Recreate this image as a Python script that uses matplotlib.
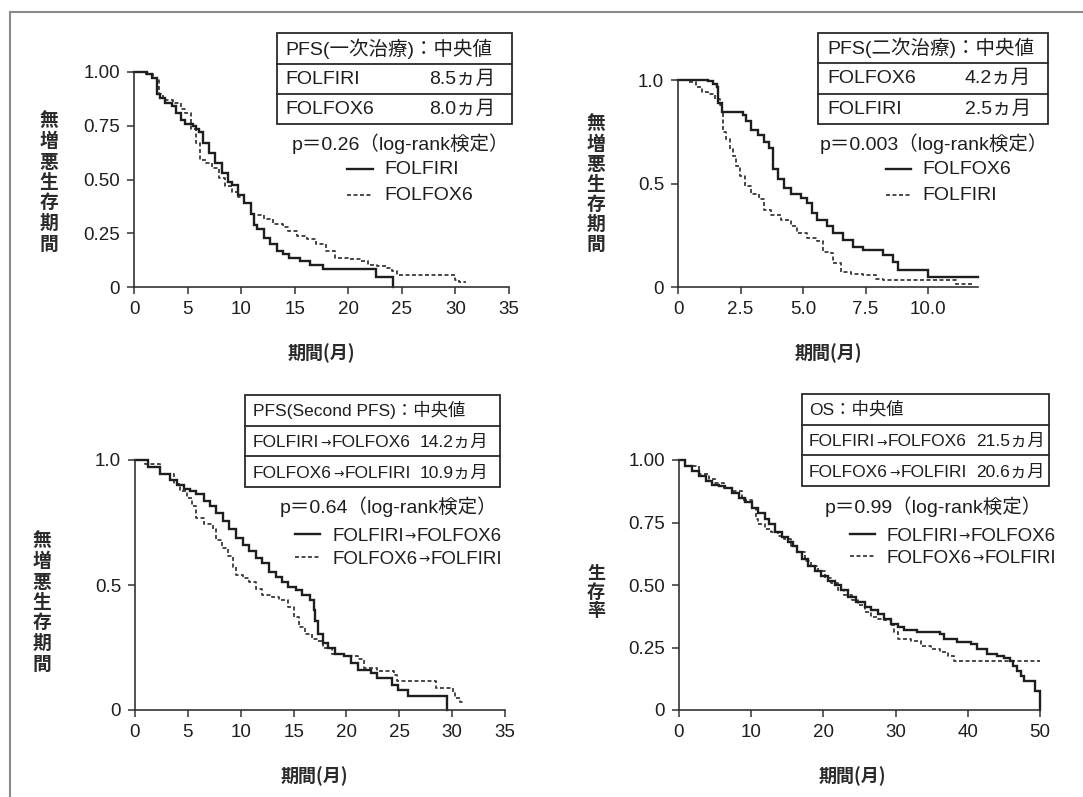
import matplotlib
matplotlib.use('Agg')
import matplotlib.pyplot as plt
from matplotlib.patches import Rectangle
from matplotlib.lines import Line2D

# ---------------- data ----------------
# Panel 1: PFS (first-line)
p1_folfiri_t = [0, 1.2, 1.7, 2.1, 2.4, 2.9, 3.5, 3.9, 4.4, 4.8, 5.5, 5.8, 6.1, 6.4, 7.0, 7.6, 8.2, 8.8, 9.1, 9.7,
                10.3, 10.9, 11.2, 11.5, 12.1, 12.7, 13.3, 13.9, 14.5, 15.5, 16.4, 17.6, 22.6, 24.2]
p1_folfiri_s = [1.0, 0.99, 0.97, 0.90, 0.88, 0.855, 0.84, 0.81, 0.775, 0.76, 0.75, 0.736, 0.72, 0.67, 0.625, 0.578,
                0.53, 0.49, 0.475, 0.43, 0.39, 0.34, 0.29, 0.27, 0.23, 0.20, 0.167, 0.152, 0.136, 0.12, 0.104, 0.085,
                0.046, 0.0]
p1_folfox_t = [0, 1.0, 1.8, 2.3, 2.7, 3.6, 4.4, 4.8, 5.3, 5.8, 6.2, 6.7, 7.3, 7.9, 8.5, 9.1, 9.7, 10.3, 10.9, 11.2,
               12.1, 13.0, 13.9, 14.4, 15.2, 16.1, 17.0, 17.9, 18.8, 20.0, 21.2, 21.8, 22.7, 23.6, 24.1, 24.5, 30.0,
               30.3, 31.0]
p1_folfox_s = [1.0, 0.99, 0.97, 0.90, 0.87, 0.855, 0.83, 0.81, 0.736, 0.67, 0.59, 0.578, 0.555, 0.507, 0.468, 0.444,
               0.42, 0.39, 0.34, 0.333, 0.318, 0.294, 0.28, 0.262, 0.239, 0.223, 0.20, 0.167, 0.136, 0.128, 0.12,
               0.104, 0.096, 0.088, 0.073, 0.054, 0.033, 0.025, 0.025]

# Panel 2: PFS (second-line)
p2_folfox_t = [0, 1.2, 1.4, 1.55, 1.6, 1.74, 2.6, 2.7, 2.9, 3.2, 3.45, 3.65, 3.8, 4.0, 4.25, 4.5, 4.9, 5.15, 5.35,
               5.55, 5.95, 6.2, 6.6, 7.0, 7.4, 8.2, 8.6, 8.8, 10.0, 12.0]
p2_folfox_s = [1.0, 0.995, 0.98, 0.967, 0.887, 0.846, 0.83, 0.80, 0.76, 0.735, 0.70, 0.67, 0.57, 0.52, 0.48, 0.447,
               0.43, 0.407, 0.358, 0.325, 0.293, 0.26, 0.228, 0.195, 0.18, 0.155, 0.122, 0.081, 0.049, 0.049]
p2_folfiri_t = [0, 0.4, 0.7, 0.95, 1.2, 1.47, 1.67, 1.74, 1.8, 1.93, 2.07, 2.2, 2.33, 2.47, 2.66, 2.9, 3.25, 3.45,
                3.7, 4.1, 4.5, 4.76, 5.15, 5.55, 5.8, 6.1, 6.2, 6.5, 6.9, 7.4, 7.9, 8.2, 11.1, 11.8]
p2_folfiri_s = [1.0, 0.99, 0.967, 0.94, 0.93, 0.91, 0.878, 0.846, 0.748, 0.715, 0.667, 0.634, 0.585, 0.537, 0.488,
                0.447, 0.423, 0.374, 0.35, 0.325, 0.293, 0.26, 0.236, 0.22, 0.171, 0.163, 0.114, 0.073, 0.065, 0.057,
                0.041, 0.033, 0.016, 0.016]

# Panel 3: Second PFS
p3_a_t = [0, 1.2, 2.4, 3.35, 4.0, 4.6, 5.2, 5.8, 6.5, 7.1, 7.7, 8.3, 8.9, 9.6, 10.2, 10.8, 11.4, 12.0, 12.7, 13.3,
          13.9, 14.5, 15.2, 15.8, 16.6, 16.9, 17.0, 17.3, 17.8, 18.3, 18.9, 19.8, 20.4, 21.1, 22.3, 22.9, 24.3, 24.9,
          25.8, 29.5]
p3_a_s = [1.0, 0.973, 0.946, 0.919, 0.90, 0.885, 0.878, 0.865, 0.838, 0.818, 0.79, 0.757, 0.723, 0.69, 0.662, 0.635,
          0.608, 0.588, 0.554, 0.534, 0.514, 0.493, 0.48, 0.46, 0.44, 0.40, 0.358, 0.304, 0.27, 0.25, 0.223, 0.216,
          0.19, 0.162, 0.149, 0.128, 0.10, 0.08, 0.056, 0.0]
p3_b_t = [0, 0.9, 2.4, 3.7, 4.3, 4.9, 5.4, 5.8, 6.5, 7.4, 7.7, 8.2, 8.8, 9.3, 9.6, 10.2, 10.8, 11.4, 12.0, 13.0, 13.6,
          14.5, 15.0, 15.5, 16.1, 16.7, 17.3, 17.8, 18.6, 19.8, 21.1, 21.7, 22.9, 24.5, 24.8, 28.5, 30.1, 30.3, 30.7,
          31.0]
p3_b_s = [1.0, 0.985, 0.946, 0.905, 0.878, 0.85, 0.818, 0.77, 0.743, 0.723, 0.682, 0.649, 0.615, 0.574, 0.54, 0.527,
          0.514, 0.486, 0.46, 0.453, 0.44, 0.412, 0.372, 0.331, 0.304, 0.284, 0.277, 0.25, 0.223, 0.216, 0.203, 0.169,
          0.155, 0.142, 0.115, 0.088, 0.074, 0.047, 0.034, 0.034]

# Panel 4: OS
p4_a_t = [0, 0.9, 1.8, 2.75, 3.7, 4.6, 5.5, 6.4, 7.3, 8.3, 9.2, 10.1, 11.0, 11.9, 12.4, 13.3, 14.2, 15.1, 15.8, 16.3,
          17.0, 17.9, 18.8, 19.7, 20.6, 21.6, 22.5, 23.4, 24.5, 25.7, 26.6, 27.5, 28.4, 29.4, 30.3, 31.2, 33.0, 36.2,
          36.7, 38.5, 40.4, 41.3, 42.7, 44.0, 45.0, 45.9, 46.3, 46.8, 47.3, 47.8, 49.3, 50.0]
p4_a_s = [1.0, 0.977, 0.957, 0.936, 0.916, 0.902, 0.896, 0.889, 0.868, 0.848, 0.834, 0.807, 0.787, 0.766, 0.746,
          0.712, 0.692, 0.671, 0.658, 0.631, 0.603, 0.576, 0.556, 0.536, 0.515, 0.502, 0.481, 0.454, 0.434, 0.413,
          0.40, 0.386, 0.366, 0.346, 0.332, 0.319, 0.312, 0.305, 0.285, 0.271, 0.264, 0.244, 0.224, 0.217, 0.21,
          0.197, 0.176, 0.156, 0.136, 0.115, 0.075, 0.0]
p4_b_t = [0, 0.9, 2.75, 4.1, 5.0, 6.2, 7.3, 8.7, 10.1, 10.6, 11.0, 11.9, 12.8, 13.7, 14.6, 15.5, 16.4, 17.4, 18.3,
          19.2, 20.2, 21.1, 22.0, 22.9, 23.9, 24.8, 25.7, 26.6, 27.5, 28.4, 29.4, 29.8, 30.3, 32.1, 33.5, 34.9, 36.2,
          37.2, 38.1, 50.0]
p4_b_s = [1.0, 0.975, 0.943, 0.923, 0.91, 0.89, 0.875, 0.841, 0.807, 0.766, 0.746, 0.725, 0.712, 0.698, 0.685,
          0.658, 0.631, 0.597, 0.576, 0.556, 0.529, 0.508, 0.481, 0.461, 0.441, 0.42, 0.393, 0.373, 0.366, 0.359,
          0.339, 0.312, 0.285, 0.278, 0.258, 0.244, 0.231, 0.217, 0.195, 0.195]

# tick labels
x_ticks_35 = [0, 5, 10, 15, 20, 25, 30, 35]
x_ticks_12 = [0, 2.5, 5.0, 7.5, 10.0]
x_labels_12 = ['0', '2.5', '5.0', '7.5', '10.0']
x_ticks_50 = [0, 10, 20, 30, 40, 50]
y_ticks_4 = [0, 0.25, 0.5, 0.75, 1.0]
y_labels_4 = ['0', '0.25', '0.50', '0.75', '1.00']
y_ticks_2 = [0, 0.5, 1.0]
y_labels_2 = ['0', '0.5', '1.0']

# table / legend texts
t1_head = 'PFS(一次治療)：中央値'
t1_rows = [('FOLFIRI', '8.5ヵ月'), ('FOLFOX6', '8.0ヵ月')]
t2_head = 'PFS(二次治療)：中央値'
t2_rows = [('FOLFOX6', '4.2ヵ月'), ('FOLFIRI', '2.5ヵ月')]
t3_head = 'PFS(Second PFS)：中央値'
t3_rows = [('FOLFIRI', 'FOLFOX6', '14.2ヵ月'), ('FOLFOX6', 'FOLFIRI', '10.9ヵ月')]
t4_head = 'OS：中央値'
t4_rows = [('FOLFIRI', 'FOLFOX6', '21.5ヵ月'), ('FOLFOX6', 'FOLFIRI', '20.6ヵ月')]
p_texts = ['p＝0.26（log-rank検定）', 'p＝0.003（log-rank検定）', 'p＝0.64（log-rank検定）', 'p＝0.99（log-rank検定）']
leg1 = ['FOLFIRI', 'FOLFOX6']
leg2 = ['FOLFOX6', 'FOLFIRI']
leg34 = [('FOLFIRI', 'FOLFOX6'), ('FOLFOX6', 'FOLFIRI')]
ARROW = '→'
ylab_pfs = '無増悪生存期間'
ylab_os = '生存率'
xlab = '期間(月)'

# ---------------- drawing ----------------
W, H = 1083, 797
FAM = ['Liberation Sans', 'Noto Sans CJK JP']
plt.rcParams['font.family'] = FAM
INK = '#1e1e1e'

fig = plt.figure(figsize=(W / 100, H / 100), dpi=100)
fig.patch.set_facecolor('white')
renderer = fig.canvas.get_renderer()


def fx(x):
    return x / W


def fy(y):
    return 1 - y / H


def make_axes(x0, x1, ytop, ybot):
    ax = fig.add_axes([x0 / W, 1 - ybot / H, (x1 - x0) / W, (ybot - ytop) / H])
    for sp in ['top', 'right']:
        ax.spines[sp].set_visible(False)
    for sp in ['left', 'bottom']:
        ax.spines[sp].set_color('#333333')
        ax.spines[sp].set_linewidth(1.2)
    ax.tick_params(direction='out', length=5, width=1.1, color='#333333', labelsize=13.5,
                   labelcolor=INK, pad=5)
    ax.set_facecolor('none')
    return ax


SOLID = dict(color=INK, lw=1.7, where='post', clip_on=False, solid_joinstyle='miter')
DASH = dict(color='#3a3a3a', lw=1.3, where='post', clip_on=False, dashes=(2.2, 1.4))

# panel 1
ax1 = make_axes(134, 509, 72, 287)
ax1.step(p1_folfox_t, p1_folfox_s, **DASH)
ax1.step(p1_folfiri_t, p1_folfiri_s, **SOLID)
ax1.set_xlim(0, 35)
ax1.set_ylim(0, 1)
ax1.set_xticks(x_ticks_35)
ax1.set_yticks(y_ticks_4)
ax1.set_yticklabels(y_labels_4)

# panel 2
ax2 = make_axes(678, 978, 80, 287)
ax2.step(p2_folfiri_t, p2_folfiri_s, **DASH)
ax2.step(p2_folfox_t, p2_folfox_s, **SOLID)
ax2.set_xlim(0, 12)
ax2.set_ylim(0, 1)
ax2.set_xticks(x_ticks_12)
ax2.set_xticklabels(x_labels_12)
ax2.set_yticks(y_ticks_2)
ax2.set_yticklabels(y_labels_2)

# panel 3
ax3 = make_axes(135, 505, 460, 710)
ax3.step(p3_b_t, p3_b_s, **DASH)
ax3.step(p3_a_t, p3_a_s, **SOLID)
ax3.set_xlim(0, 35)
ax3.set_ylim(0, 1)
ax3.set_xticks(x_ticks_35)
ax3.set_yticks(y_ticks_2)
ax3.set_yticklabels(y_labels_2)

# panel 4
ax4 = make_axes(679, 1040, 460, 710)
ax4.step(p4_b_t, p4_b_s, **DASH)
ax4.step(p4_a_t, p4_a_s, **SOLID)
ax4.set_xlim(0, 50)
ax4.set_ylim(0, 1)
ax4.set_xticks(x_ticks_50)
ax4.set_yticks(y_ticks_4)
ax4.set_yticklabels(y_labels_4)


def seq_text(x, yc, pieces, fs):
    """Draw pieces left to right on a common baseline; pieces = (text, scale, family, gap_after)."""
    fs_px = fs * 100 / 72
    base = yc + 0.36 * fs_px
    cur = x
    for s, scale, fam, gap in pieces:
        t = fig.text(fx(cur), fy(base), s, ha='left', va='baseline', fontsize=fs * scale,
                     family=fam, color=INK)
        cur += t.get_window_extent(renderer).width + gap


def arrow_pieces(a, b, tail=None):
    pcs = [(a, 1.0, FAM, 1), (ARROW, 0.72, 'DejaVu Sans', 1), (b, 1.0, FAM, 0)]
    if tail:
        pcs[-1] = (b, 1.0, FAM, 9)
        pcs.append((tail, 1.0, FAM, 0))
    return pcs


def table_box(x0, x1, ys):
    lw = 1.3
    fig.add_artist(Rectangle((fx(x0), fy(ys[-1])), (x1 - x0) / W, (ys[-1] - ys[0]) / H,
                             transform=fig.transFigure, fill=False, ec='#2a2a2a', lw=lw))
    for yy in ys[1:-1]:
        fig.add_artist(Line2D([fx(x0), fx(x1)], [fy(yy), fy(yy)], transform=fig.transFigure,
                              color='#2a2a2a', lw=lw))


def mid(ys, i):
    return (ys[i] + ys[i + 1]) / 2


# table 1
ys1 = [33, 64, 94, 124]
table_box(277, 512, ys1)
fig.text(fx(285), fy(mid(ys1, 0)), t1_head, ha='left', va='center', fontsize=14, color=INK)
for i, (a, b) in enumerate(t1_rows):
    fig.text(fx(285), fy(mid(ys1, i + 1)), a, ha='left', va='center', fontsize=14, color=INK)
    fig.text(fx(495), fy(mid(ys1, i + 1)), b, ha='right', va='center', fontsize=14, color=INK)

# table 2
ys2 = [33, 63, 94, 124]
table_box(818, 1048, ys2)
fig.text(fx(827), fy(mid(ys2, 0)), t2_head, ha='left', va='center', fontsize=14, color=INK)
for i, (a, b) in enumerate(t2_rows):
    fig.text(fx(827), fy(mid(ys2, i + 1)), a, ha='left', va='center', fontsize=14, color=INK)
    fig.text(fx(1031), fy(mid(ys2, i + 1)), b, ha='right', va='center', fontsize=14, color=INK)

# table 3
ys3 = [395, 425.5, 456, 487]
table_box(245, 500, ys3)
fig.text(fx(253), fy(mid(ys3, 0)), t3_head, ha='left', va='center', fontsize=12.5, color=INK)
for i, (a, b, c) in enumerate(t3_rows):
    seq_text(253, mid(ys3, i + 1), arrow_pieces(a, b, c), 12.5)

# table 4
ys4 = [394, 425, 455, 486]
table_box(802, 1049, ys4)
fig.text(fx(809), fy(mid(ys4, 0)), t4_head, ha='left', va='center', fontsize=12.5, color=INK)
for i, (a, b, c) in enumerate(t4_rows):
    seq_text(809, mid(ys4, i + 1), arrow_pieces(a, b, c), 12.5)

# p-values (right aligned)
fig.text(fx(509), fy(144), p_texts[0], ha='right', va='center', fontsize=14, color=INK)
fig.text(fx(1048), fy(144), p_texts[1], ha='right', va='center', fontsize=14, color=INK)
fig.text(fx(497), fy(507), p_texts[2], ha='right', va='center', fontsize=14, color=INK)
fig.text(fx(1042), fy(507), p_texts[3], ha='right', va='center', fontsize=14, color=INK)


# legends
def legend_line(lx0, lx1, yy, dashed):
    if dashed:
        ln = Line2D([fx(lx0), fx(lx1)], [fy(yy), fy(yy)], transform=fig.transFigure, color='#3a3a3a',
                    lw=1.3, dashes=(2.2, 1.4))
    else:
        ln = Line2D([fx(lx0), fx(lx1)], [fy(yy), fy(yy)], transform=fig.transFigure, color=INK, lw=1.7)
    fig.add_artist(ln)


for j, (yy, lab) in enumerate(zip([169, 195], leg1)):
    legend_line(347, 373, yy, j == 1)
    fig.text(fx(384), fy(yy), lab, ha='left', va='center', fontsize=14, color=INK)
for j, (yy, lab) in enumerate(zip([169, 195], leg2)):
    legend_line(886, 911, yy, j == 1)
    fig.text(fx(922), fy(yy), lab, ha='left', va='center', fontsize=14, color=INK)
for j, (yy, (a, b)) in enumerate(zip([534, 557], leg34)):
    legend_line(295, 320, yy, j == 1)
    seq_text(332, yy, arrow_pieces(a, b), 13.5)
for j, (yy, (a, b)) in enumerate(zip([534, 556], leg34)):
    legend_line(850, 875, yy, j == 1)
    seq_text(886, yy, arrow_pieces(a, b), 13.5)


# vertical y labels
def vlabel(x, ystart, pitch, s, fs=13.5):
    for k, ch in enumerate(s):
        fig.text(fx(x), fy(ystart + k * pitch), ch, ha='center', va='center', fontsize=fs,
                 color='#2a2a2a', fontweight='bold', family='Noto Sans CJK JP')


vlabel(49, 121, 20.5, ylab_pfs)
vlabel(596, 124, 20, ylab_pfs)
vlabel(42, 541, 20.5, ylab_pfs)
vlabel(596, 573, 19, ylab_os, fs=13)

# x labels
for xc, yc in [(321, 353), (828, 353), (314, 776), (852, 776)]:
    fig.text(fx(xc), fy(yc), xlab, ha='center', va='center', fontsize=13, color='#2a2a2a',
             fontweight='bold', family='Noto Sans CJK JP')

# outer frame (scan border)
fig.add_artist(Line2D([fx(10), 1], [fy(12), fy(12)], transform=fig.transFigure, color='#8a8a8a', lw=1.5))
fig.add_artist(Line2D([fx(10), fx(10)], [fy(12), 0], transform=fig.transFigure, color='#8a8a8a', lw=1.5))

fig.savefig('out.png', dpi=100, facecolor='white')
